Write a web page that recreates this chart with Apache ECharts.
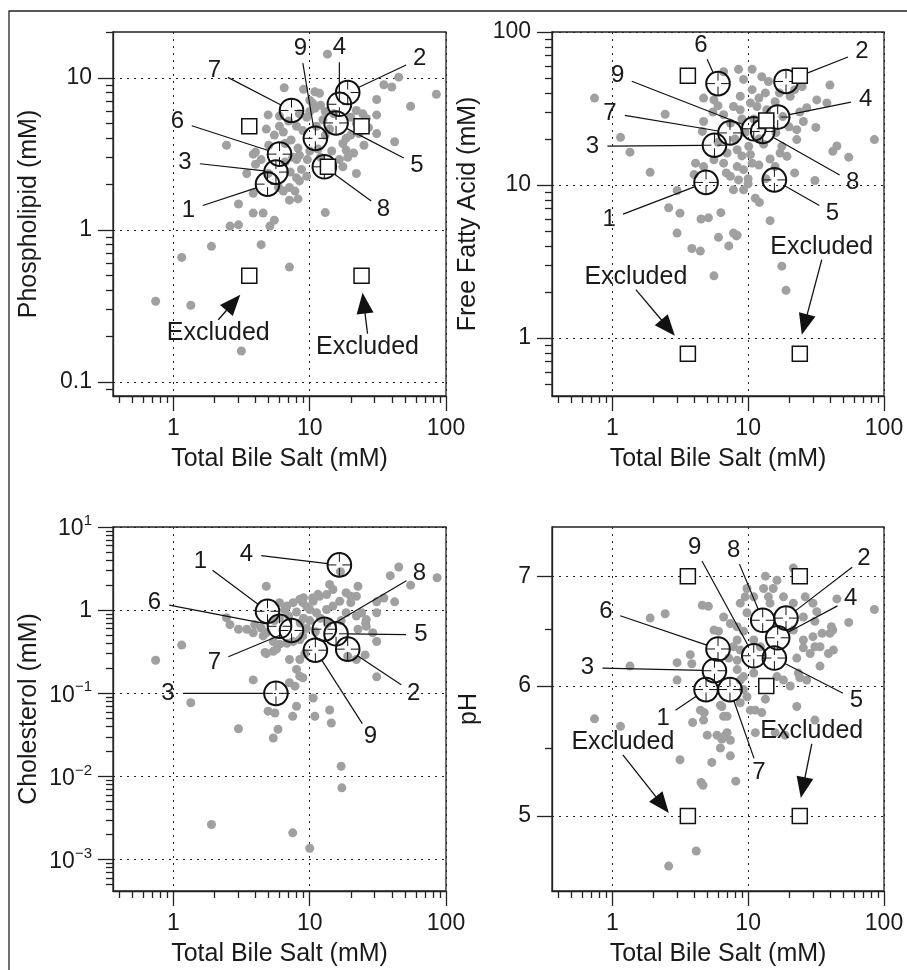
<!DOCTYPE html>
<html>
<head>
<meta charset="utf-8">
<script src="https://cdn.jsdelivr.net/npm/echarts@6/dist/echarts.min.js"></script>
<style>
  html, body { margin: 0; padding: 0; background: #fff; }
  #chart { width: 907px; height: 970px; }
</style>
</head>
<body>
<div id="chart"></div>
<script>
// all panels: x = total bile salt (mM)
const phosDots = [[13.5,14.3],[45,10.1],[35,9.0],[40,8.7],[85,7.8],[55,6.5],[31,7.2],[31,5.7],[31,4.3],[42,3.8],[22,2.35],[13,1.3],[6.5,8.6],[2.45,3.6],[4.95,5.7],[4.8,4.6],[3.85,3.15],[3.0,1.48],[3.85,1.29],[4.55,1.29],[2.6,1.06],[3.0,1.08],[5.1,1.06],[5.5,1.16],[1.9,0.78],[1.15,0.66],[4.4,0.8],[7.1,0.57],[0.74,0.34],[1.34,0.32],[3.15,0.16],[3.85,1.74],[8.2,1.6],
  [10.9,8.1],[11.8,7.9],[10,7.1],[22,6.1],[6.0,4.8],[6.4,4.4],[8.4,5.8],[9.5,5.5],[10.9,6.3],[8.0,4.8],[8.9,4.5],[7.3,3.9],[8.2,3.45],[4.0,3.25],[4.0,2.7],[4.4,2.9],[8.4,3.1],[8.0,2.9],[18.5,3.35],[19,3.0],[16.5,2.9],[17.5,2.6],[8.7,2.5],[9.5,2.25],[8,2.2],[8.4,2.1],[7.1,1.9],[7.8,1.8],[6.4,1.8],[3.45,2.35],[5.9,1.9],[7.1,1.57],[24.5,5.8],[26,5.4],[18.5,4.0],[17.5,3.7],[11.2,4.8],[6.6,3.7],[7.5,3.0],[4.95,2.35],[10.5,6.8],[12,6.6],[13,6.0],[20,5.5],[22,5.0],[27,4.7],
  [9,8.4],[10,6.0],[12.5,5.3],[14,4.6],[13,4.2],[11.5,3.4],[12,3.0],[10,3.3],[9.6,2.9],[14.5,3.3],[20,4.2],[23,4.3],[25,3.6],[21,3.2],[15,5.8],[7,5.2],[6,5.6],[5.5,4.2],[5,3.6],[7.2,2.4],[6.6,2.8]];

const ffaDots = [[0.74,37],[1.15,20.5],[1.35,16.4],[1.9,12.1],[2.45,29],[2.6,7.1],[3.15,6.55],[3.0,9.2],[3.0,4.85],[4.5,6.0],[5.1,6.1],[6.3,6.6],[3.85,3.85],[4.45,3.7],[6.05,4.55],[7.2,4.0],[8.2,4.65],[5.6,2.55],[14.5,5.85],[17.7,2.95],[19,2.05],[40,45],[85,19.8],[55,15.2],[45,18],[42,16.6],[31,10.7],[31.5,23.8],[38,34.4],[32,36],[22,12],[22.8,23],[25.5,26],[14.5,25.7],[17.7,17.9],[14.5,14.8],[15.8,13.2],[10.7,13.9],[9.25,12.6],[11.3,8.2],[12.1,7.7],[7.8,9.3],[9.25,9.3],[6.9,12.0],[4.1,13.9],[4.7,13.2],[4.0,11.7],[4.7,26],[4.6,22.4],[4.7,37],[5.6,36],[6.6,55],[8.5,57],[10.7,57],[9.25,49],[12.6,51],[14.1,47.5],[10.7,42],[13.4,40],[8.75,38],[10.4,34.4],[11.6,32.6],[13.7,31],[15.8,35],[20.4,38],[7.8,32.6],[8.75,31],[6.6,28.8],[7.4,25.4],[10.1,17.9],[10.4,15.8],[8.3,17],[7.0,16.2],[5.6,14.6],[6.6,13.9],[17.2,16.2],[19.3,15.4],[22.8,19.8],[8.3,13.2],[7.4,11.4],[7.8,4.85],[8.3,4.7],
  [9.5,22],[12,20],[11,27],[16,22],[13,18.5],[9,27],[18,28],[20,24],[24,30],[27,32],[17,40],[22,42],[25,44],[12,37],[6,33],[5.5,30],[9,15.5],[8,20],[6,19],[10,11],[12,13.5],[13.5,11],[8.5,10.8],[10,10.2]];

const cholDots = [[45,3.3],[39,2.6],[55,2.0],[86,2.45],[42,1.26],[35,1.4],[31,1.26],[31,0.93],[31,0.42],[31,0.158],[25.5,0.29],[22.6,1.94],[18.5,1.62],[20,1.47],[25.7,0.7],[24,0.93],[14,2.04],[4.8,1.94],[1.15,0.38],[0.74,0.25],[1.34,0.077],[3.0,0.0375],[3.85,0.145],[4.95,0.061],[5.4,0.029],[5.85,0.037],[7.5,0.053],[10.9,0.053],[14,0.063],[14.4,0.044],[10.6,0.088],[17,0.0133],[17.2,0.0073],[1.9,0.00265],[7.5,0.0021],[10,0.00137],[2.6,0.67],[3.0,0.59],[3.45,0.59],[2.45,0.81],[3.85,0.535],[4.55,0.49],[4.7,0.31],[5.4,0.32],
  [14.8,1.77],[11.8,1.47],[10.6,1.28],[8.45,1.35],[8.9,1.23],[7.55,1.23],[6.8,1.12],[6.0,1.23],[6.55,1.02],[10,1.02],[11.2,0.93],[13.3,1.02],[14.8,1.12],[16.6,1.28],[20,1.23],[22,1.47],[18.5,0.93],[22,0.85],[26,0.77],[22.6,0.59],[26,0.64],[29,0.535],[22,0.255],[19,0.28],[3.95,0.67],[4.4,0.61],[4.8,0.535],[5.4,0.42],[6.0,0.39],[6.8,0.4],[7.55,0.42],[8.45,0.44],[8.9,0.49],[5.7,0.34],[4.8,0.3],[7.1,0.255],[8.45,0.255],[9.2,0.3],[8,0.194],[8.45,0.161],[8.9,0.154],[7.1,0.134],[7.8,0.122],[8,0.07],[5.55,0.058],
  [9.5,1.1],[8,0.95],[9,0.8],[10,0.75],[7,0.85],[6,0.8],[5.5,0.75],[12,0.8],[13.5,0.7],[17,0.75],[11,0.55],[9.5,0.6],[8.5,0.7],[16.8,2.9],[13.3,1.54],[9,1.41],[10.5,1.4],[11.5,1.55]];

const phDots = [[0.74,5.73],[1.15,5.67],[1.35,6.17],[1.9,6.6],[2.45,6.64],[3.0,6.05],[3.15,5.41],[2.6,4.66],[4.15,4.76],[4.5,5.24],[4.65,5.22],[5.4,5.39],[6.25,5.5],[7.4,5.44],[8.1,5.25],[5.0,5.6],[5.9,5.6],[7.0,5.62],[6.4,5.57],[3.9,5.7],[4.75,5.78],[4.6,6.72],[5.1,6.71],[3.75,6.27],[3.85,6.19],[7.0,5.75],[6.4,5.83],[9.5,6.8],[13.4,7.0],[13,6.88],[14.1,6.8],[18.2,6.8],[21.5,7.08],[26.3,6.8],[45,6.78],[85,6.68],[55,6.56],[40,6.46],[42,6.49],[31,6.34],[39,6.28],[31,6.57],[32,6.66],[25.5,6.33],[22.8,6.24],[23.4,6.11],[24,6.07],[22.8,5.83],[31,5.72],[18.2,6.05],[16.3,6.08],[13.4,5.89],[11.3,5.8],[12.6,5.78],[11.3,5.62],[18.7,5.6],[15.8,5.62],
  [30,6.74],[8.75,6.74],[9.8,6.65],[6.6,6.61],[7.4,6.55],[5.6,6.49],[6.05,6.48],[8.3,6.52],[9.25,6.48],[8.3,6.4],[8.75,6.31],[7.8,6.34],[7.2,6.24],[8.3,6.22],[8.3,6.14],[9.25,6.08],[8.75,6.05],[11,6.11],[9.25,5.97],[9.8,5.91],[8.75,5.86],[10.4,5.8],[6.25,5.84],[6.6,5.75],[4.45,5.8],[4.7,5.72],[6.8,5.6],[7.4,5.56],[3.0,6.2],[20.4,6.0],[27,6.05],[33.8,6.17],[42.4,6.31],[33.8,6.34],[28.6,6.28],[21.5,6.74],[25.5,6.61],[21.5,6.49],[25.5,6.4],[30,6.43],[35,6.46],[41,6.52],[16.3,6.96],[15.3,6.88],[14.5,6.74],[9.8,6.88],[11,6.8],[11,6.4],[12.3,6.34]];

// numbered samples 1..9
const sampleNum = [1, 2, 3, 4, 5, 6, 7, 8, 9];
const sampleBileSalt = [4.9, 19, 5.65, 16.5, 15.6, 6.0, 7.35, 12.8, 11];
const samplePhos = [2.0, 8.0, 2.4, 6.7, 5.05, 3.15, 6.1, 2.6, 4.0];
const sampleFfa = [10.4, 47.5, 18.2, 27.8, 10.8, 46, 21.9, 22.4, 23.3];
const sampleChol = [0.97, 0.34, 0.1, 3.5, 0.52, 0.64, 0.57, 0.59, 0.33];
const samplePh = [5.97, 6.6, 6.13, 6.42, 6.24, 6.32, 5.97, 6.58, 6.26];

// excluded samples (open squares); last two carry the "Excluded" arrows
const exclBileSalt = [3.6, 24, 13.6, 3.6, 24];
const exclPhos = [4.8, 4.8, 2.6, 0.5, 0.5];
const exclFfa = [51.8, 51.8, 26.4, 0.79, 0.79];
const exclPh = [7.0, 7.0, 6.0, 5.0, 5.0];
const exclAnnotated = [3, 4];

// ticks
const xMajor = [1, 10, 100];
const phosMajor = [0.1, 1, 10];
const ffaMajor = [1, 10, 100];
const cholMajor = [0.001, 0.01, 0.1, 1, 10];
const phMajor = [5, 6, 7];
const phMinor = [5.5, 6.5];

// layout: label offsets (px) from each circle, arrow/text offsets from each square
const phosOff = [[-79,26],[72,-34],[-91,-10],[0,-57],[81,42],[-102,-33],[-77,-40],[59,43],[-15,-90]];
const ffaOff = [[-97,37],[76,-30],[-122,1],[88,-18],[58,33],[-17,-38],[-120,-20],[90,51],[-136,-53]];
const cholOff = [[-67,-50],[66,44],[-108,0],[-93,-11],[85,1],[-125,-24],[-77,32],[95,-56],[55,86]];
const phOff = [[-43,29],[78,-60],[-127,-3],[73,-39],[82,42],[-112,-38],[29,83],[-29,-70],[-59,-108]];
const phosExcl = [{tip: [-9, 19], text: [-31, 57]}, {tip: [1, 17], text: [6, 71]}];
const ffaExcl = [{tip: [-13, -18], text: [-52, -77]}, {tip: [2, -19], text: [22, -107]}];
const phExcl = [{tip: [-19, -3], text: [-65, -74]}, {tip: [1, -18], text: [12, -85]}];

const FONT = '"Liberation Sans", Arial, Helvetica, sans-serif';
const INK = '#1a1a1a';
const lg = Math.log10;

function minorTicks(lo, hi) {
  const out = [];
  for (let e = Math.floor(lg(lo)); e <= Math.ceil(lg(hi)); e++) {
    for (let m = 2; m <= 9; m++) {
      const v = m * Math.pow(10, e);
      if (v >= lo * 0.999 && v <= hi * 1.001) out.push(v);
    }
  }
  return out;
}

function fmtNum(v) { return String(parseFloat(Math.pow(10, v).toPrecision(3))); }
function fmtPow(v) {
  const e = Math.round(v);
  if (e === 0) return '{b|1}';
  return '{b|10}{s|' + (e < 0 ? '\u2212' + (-e) : e) + '}';
}

const xRange = [0.36, 100];
const grids = [
  {left: 113, top: 32, width: 333, height: 364},
  {left: 552, top: 32, width: 332, height: 364},
  {left: 113, top: 527, width: 333, height: 364},
  {left: 552, top: 527, width: 332, height: 364}
];

const panels = [
  {yName: 'Phospholipid (mM)', yRange: [0.081, 20], yMajor: phosMajor, yFmt: fmtNum, yGap: 71,
   dots: phosDots, sampleY: samplePhos, off: phosOff, exclY: exclPhos, excl: phosExcl},
  {yName: 'Free Fatty Acid (mM)', yRange: [0.418, 100], yMajor: ffaMajor, yFmt: fmtNum, yGap: 71,
   dots: ffaDots, sampleY: sampleFfa, off: ffaOff, exclY: exclFfa, excl: ffaExcl},
  {yName: 'Cholesterol (mM)', yRange: [0.00042, 10], yMajor: cholMajor, yFmt: fmtPow, yGap: 71,
   dots: cholDots, sampleY: sampleChol, off: cholOff, exclY: null, excl: null},
  {yName: 'pH', yRange: [4.5, 7.5], yMajor: phMajor, yMinorList: phMinor, yFmt: fmtNum, yGap: 70,
   dots: phDots, sampleY: samplePh, off: phOff, exclY: exclPh, excl: phExcl}
];

const lineSt = {color: '#222', width: 1.3};
const labelSt = {fontFamily: FONT, fontSize: 23, color: INK};

function mainAxis(dim, gi, range, major, fmt, name, gap) {
  const ax = {
    type: 'value', gridIndex: gi, min: lg(range[0]), max: lg(range[1]),
    position: dim === 'x' ? 'bottom' : 'left',
    name: name, nameLocation: 'middle', nameGap: gap,
    nameTextStyle: {fontFamily: FONT, fontSize: 25, color: INK},
    axisLine: {show: true, onZero: false, lineStyle: lineSt},
    axisTick: {show: true, length: 15, customValues: major.map(lg), lineStyle: lineSt},
    axisLabel: Object.assign({show: true, customValues: major.map(lg), formatter: fmt, margin: 21}, labelSt),
    splitLine: {show: true, lineStyle: {color: '#222', width: 1, type: [2, 5]}}
  };
  if (fmt === fmtPow) {
    ax.axisLabel.rich = {
      b: {fontFamily: FONT, fontSize: 23, color: INK, verticalAlign: 'bottom'},
      s: {fontFamily: FONT, fontSize: 15, color: INK, verticalAlign: 'bottom', padding: [0, 0, 12, 0]}
    };
  }
  return ax;
}

function minorAxis(dim, gi, range, minor) {
  return {
    type: 'value', gridIndex: gi, min: lg(range[0]), max: lg(range[1]),
    position: dim === 'x' ? 'bottom' : 'left',
    axisLine: {show: false, onZero: false}, axisLabel: {show: false}, splitLine: {show: false},
    axisTick: {show: true, length: 7, customValues: minor.map(lg), lineStyle: lineSt}
  };
}

function calloutSeries(gi, ys, offsets) {
  return {
    type: 'custom', xAxisIndex: 2 * gi, yAxisIndex: 2 * gi, z: 3, clip: false, silent: true,
    data: sampleBileSalt.map((x, i) => [lg(x), lg(ys[i]), sampleNum[i]]),
    renderItem: function (params, api) {
      const p = api.coord([api.value(0), api.value(1)]);
      const n = api.value(2);
      const o = offsets[n - 1];
      const d = Math.hypot(o[0], o[1]);
      const ux = o[0] / d, uy = o[1] / d;
      const r = 11.8, gap = 15;
      const lx = p[0] + o[0], ly = p[1] + o[1];
      const seg = (x1, y1, x2, y2, w) => ({type: 'line', shape: {x1, y1, x2, y2}, style: {stroke: '#111', lineWidth: w}});
      return {
        type: 'group',
        children: [
          seg(p[0] + ux * r, p[1] + uy * r, lx - ux * gap, ly - uy * gap, 1.2),
          {type: 'circle', shape: {cx: p[0], cy: p[1], r: r}, style: {fill: 'none', stroke: '#111', lineWidth: 2}},
          seg(p[0] - r, p[1], p[0] - 3, p[1], 1),
          seg(p[0] + 3, p[1], p[0] + r, p[1], 1),
          seg(p[0], p[1] - r, p[0], p[1] - 3, 1),
          seg(p[0], p[1] + 3, p[0], p[1] + r, 1),
          {type: 'text', x: lx, y: ly, style: {text: String(n), fontFamily: FONT, fontSize: 24, fill: INK, align: 'center', verticalAlign: 'middle'}}
        ]
      };
    }
  };
}

function excludedSeries(gi, ys, layout) {
  return {
    type: 'custom', xAxisIndex: 2 * gi, yAxisIndex: 2 * gi, z: 5, clip: false, silent: true,
    data: exclAnnotated.map((k, j) => [lg(exclBileSalt[k]), lg(ys[k]), j]),
    renderItem: function (params, api) {
      const p = api.coord([api.value(0), api.value(1)]);
      const L = layout[api.value(2)];
      const tip = [p[0] + L.tip[0], p[1] + L.tip[1]];
      const t = [p[0] + L.text[0], p[1] + L.text[1]];
      const s = [t[0], t[1] + (tip[1] > t[1] ? 13 : -13)];
      const d = Math.hypot(tip[0] - s[0], tip[1] - s[1]);
      const ux = (tip[0] - s[0]) / d, uy = (tip[1] - s[1]) / d;
      const hl = 21, hw = 8.5;
      const bx = tip[0] - ux * hl, by = tip[1] - uy * hl;
      return {
        type: 'group',
        children: [
          {type: 'line', shape: {x1: s[0], y1: s[1], x2: bx + ux * 2, y2: by + uy * 2}, style: {stroke: '#111', lineWidth: 1.3}},
          {type: 'polygon', shape: {points: [tip, [bx - uy * hw, by + ux * hw], [bx + uy * hw, by - ux * hw]]}, style: {fill: '#111'}},
          {type: 'text', x: t[0], y: t[1], style: {text: 'Excluded', fontFamily: FONT, fontSize: 25, fill: INK, align: 'center', verticalAlign: 'middle'}}
        ]
      };
    }
  };
}

const xAxes = [], yAxes = [], series = [];
panels.forEach((pn, gi) => {
  xAxes.push(mainAxis('x', gi, xRange, xMajor, fmtNum, 'Total Bile Salt (mM)', 51));
  xAxes.push(minorAxis('x', gi, xRange, minorTicks(xRange[0], xRange[1])));
  yAxes.push(mainAxis('y', gi, pn.yRange, pn.yMajor, pn.yFmt, pn.yName, pn.yGap));
  yAxes.push(minorAxis('y', gi, pn.yRange, pn.yMinorList || minorTicks(pn.yRange[0], pn.yRange[1])));

  series.push({
    type: 'scatter', xAxisIndex: 2 * gi, yAxisIndex: 2 * gi, z: 2, silent: true,
    symbol: 'circle', symbolSize: 9, itemStyle: {color: '#a0a0a0', opacity: 1},
    data: pn.dots.map(d => [lg(d[0]), lg(d[1])])
  });
  series.push(calloutSeries(gi, pn.sampleY, pn.off));
  if (pn.exclY) {
    series.push({
      type: 'scatter', xAxisIndex: 2 * gi, yAxisIndex: 2 * gi, z: 4, silent: true,
      symbol: 'rect', symbolSize: 15,
      itemStyle: {color: '#fff', borderColor: '#111', borderWidth: 1.5, opacity: 1},
      data: exclBileSalt.map((x, i) => [lg(x), lg(pn.exclY[i])])
    });
    series.push(excludedSeries(gi, pn.exclY, pn.excl));
  }
});

const chart = echarts.init(document.getElementById('chart'), null, {renderer: 'canvas'});
chart.setOption({
  animation: false,
  backgroundColor: '#fff',
  grid: grids.map(g => Object.assign({show: true, borderColor: '#222', borderWidth: 1.3, containLabel: false}, g)),
  xAxis: xAxes,
  yAxis: yAxes,
  series: series,
  graphic: [{
    type: 'rect', silent: true, z: 10,
    shape: {x: 9, y: 11, width: 960, height: 1000},
    style: {fill: 'none', stroke: '#222', lineWidth: 1.3}
  }]
});
</script>
</body>
</html>
